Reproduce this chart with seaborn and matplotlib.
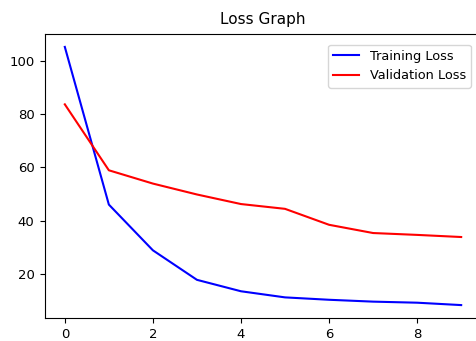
import matplotlib
matplotlib.use("Agg")
import matplotlib.pyplot as plt
import seaborn as sns
import pandas as pd

epochs = list(range(10))
training_loss = [105.3, 46.0, 28.8, 17.7, 13.4, 11.1, 10.2, 9.5, 9.1, 8.2]
validation_loss = [83.7, 58.9, 53.9, 49.8, 46.2, 44.4, 38.4, 35.3, 34.6, 33.8]

df = pd.DataFrame({"epoch": epochs, "train": training_loss, "val": validation_loss})

fig = plt.figure(figsize=(4.77, 3.41), dpi=100)
ax = fig.add_axes([45 / 477, 1 - 318 / 341, (481 - 45) / 477, (318 - 34) / 341])
sns.lineplot(data=df, x="epoch", y="train", color="blue", label="Training Loss", ax=ax, linewidth=1.5)
sns.lineplot(data=df, x="epoch", y="val", color="red", label="Validation Loss", ax=ax, linewidth=1.5)
ax.set_xlabel("")
ax.set_ylabel("")
ax.set_title("Loss Graph", fontsize=11, pad=7)
ax.tick_params(labelsize=9.5, pad=4)
ax.legend(loc="upper right", fontsize=9.3, bbox_to_anchor=(0.992, 0.985))
fig.savefig("out.png", dpi=100)
